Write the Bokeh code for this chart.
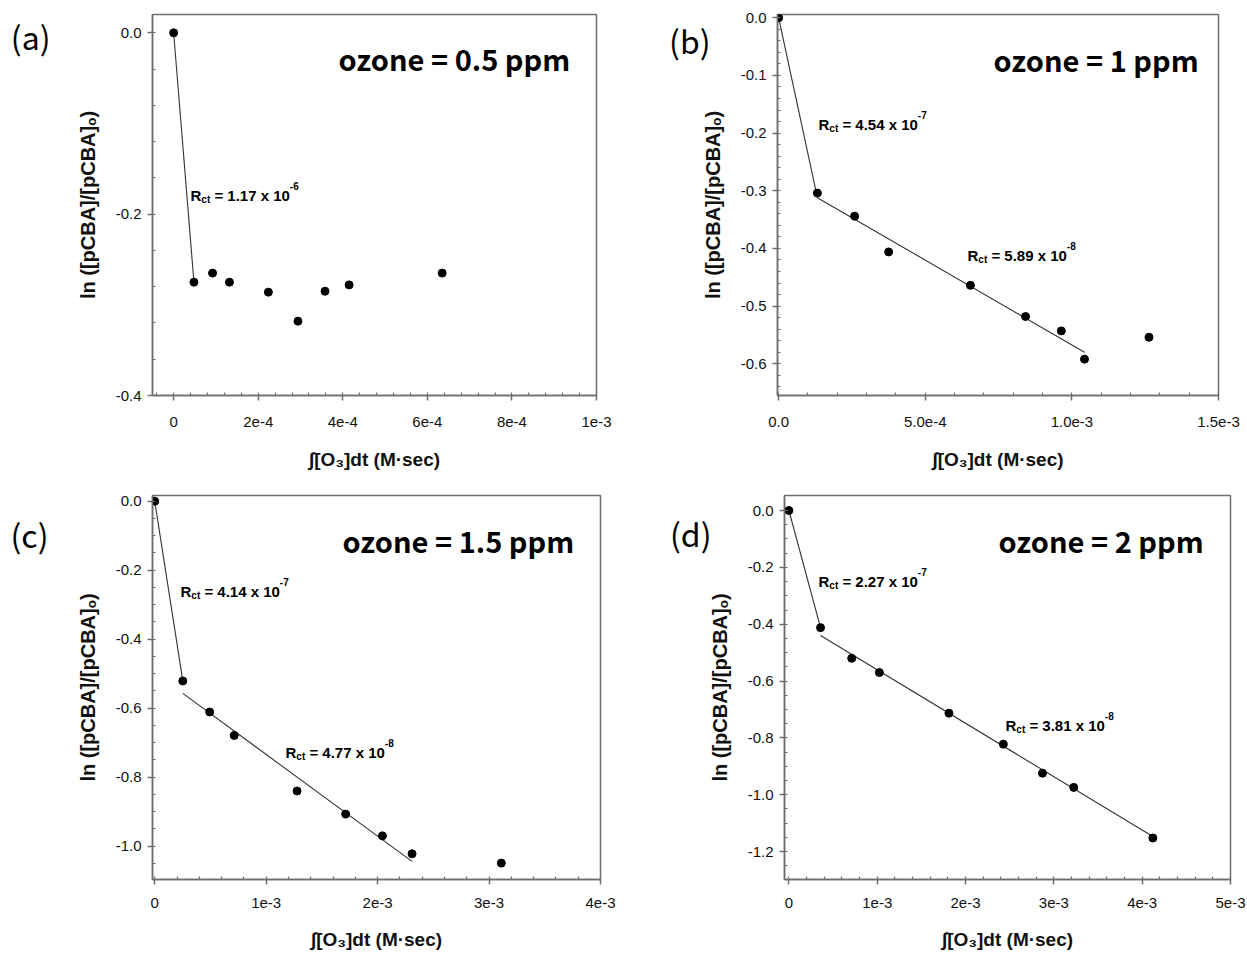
from bokeh.plotting import figure
from bokeh.models import Label, FixedTicker, Range1d, LinearAxis
from bokeh.layouts import column, row
from bokeh.embed import file_html
from bokeh.resources import INLINE

# ---------------- data ----------------
ozone_labels = ["ozone = 0.5 ppm", "ozone = 1 ppm", "ozone = 1.5 ppm", "ozone = 2 ppm"]
panel_letters = ["(a)", "(b)", "(c)", "(d)"]

a_x = [0.0, 4.8e-5, 9.2e-5, 1.32e-4, 2.24e-4, 2.94e-4, 3.58e-4, 4.15e-4, 6.35e-4]
a_y = [0.0, -0.275, -0.265, -0.275, -0.286, -0.318, -0.285, -0.278, -0.265]
a_fit1_x = [0.0, 4.8e-5]
a_fit1_y = [0.0, -0.275]

b_x = [0.0, 1.32e-4, 2.59e-4, 3.75e-4, 6.54e-4, 8.42e-4, 9.64e-4, 1.043e-3, 1.263e-3]
b_y = [0.0, -0.304, -0.344, -0.406, -0.464, -0.518, -0.543, -0.592, -0.554]
b_fit1_x = [0.0, 1.32e-4]
b_fit1_y = [0.0, -0.312]
b_fit2_x = [1.32e-4, 1.043e-3]
b_fit2_y = [-0.312, -0.580]

c_x = [0.0, 2.52e-4, 4.93e-4, 7.13e-4, 1.277e-3, 1.713e-3, 2.043e-3, 2.309e-3, 3.11e-3]
c_y = [0.0, -0.521, -0.611, -0.679, -0.840, -0.907, -0.970, -1.022, -1.049]
c_fit1_x = [0.0, 2.52e-4]
c_fit1_y = [0.0, -0.521]
c_fit2_x = [2.52e-4, 2.309e-3]
c_fit2_y = [-0.557, -1.044]

d_x = [0.0, 3.58e-4, 7.11e-4, 1.024e-3, 1.812e-3, 2.428e-3, 2.871e-3, 3.225e-3, 4.121e-3]
d_y = [0.0, -0.412, -0.520, -0.570, -0.713, -0.822, -0.924, -0.974, -1.152]
d_fit1_x = [0.0, 3.58e-4]
d_fit1_y = [0.0, -0.412]
d_fit2_x = [3.58e-4, 4.121e-3]
d_fit2_y = [-0.440, -1.147]

# R_ct annotations: (coefficient, exponent)
a_rct = [("1.17", "-6")]
b_rct = [("4.54", "-7"), ("5.89", "-8")]
c_rct = [("4.14", "-7"), ("4.77", "-8")]
d_rct = [("2.27", "-7"), ("3.81", "-8")]

# tick values and labels
a_xticks = [0.0, 2e-4, 4e-4, 6e-4, 8e-4, 1e-3]
a_xlabels = ["0", "2e-4", "4e-4", "6e-4", "8e-4", "1e-3"]
a_yticks = [0.0, -0.2, -0.4]
a_ylabels = ["0.0", "-0.2", "-0.4"]

b_xticks = [0.0, 5e-4, 1e-3, 1.5e-3]
b_xlabels = ["0.0", "5.0e-4", "1.0e-3", "1.5e-3"]
b_yticks = [0.0, -0.1, -0.2, -0.3, -0.4, -0.5, -0.6]
b_ylabels = ["0.0", "-0.1", "-0.2", "-0.3", "-0.4", "-0.5", "-0.6"]

c_xticks = [0.0, 1e-3, 2e-3, 3e-3, 4e-3]
c_xlabels = ["0", "1e-3", "2e-3", "3e-3", "4e-3"]
c_yticks = [0.0, -0.2, -0.4, -0.6, -0.8, -1.0]
c_ylabels = ["0.0", "-0.2", "-0.4", "-0.6", "-0.8", "-1.0"]

d_xticks = [0.0, 1e-3, 2e-3, 3e-3, 4e-3, 5e-3]
d_xlabels = ["0", "1e-3", "2e-3", "3e-3", "4e-3", "5e-3"]
d_yticks = [0.0, -0.2, -0.4, -0.6, -0.8, -1.0, -1.2]
d_ylabels = ["0.0", "-0.2", "-0.4", "-0.6", "-0.8", "-1.0", "-1.2"]

X_LABEL = "\u222b[O\u2083]dt (M\u00b7sec)"
Y_LABEL = "ln ([pCBA]/[pCBA]\u2092)"

# ---------------- styling helpers ----------------
AX = "#6e6e6e"
SANS = "Liberation Sans"
KR = "Noto Sans CJK KR"

# Arial Bold advance widths (per 1000 em)
ARIAL_BOLD_W = {"R": 722, "c": 556, "t": 333, " ": 278, "=": 584, ".": 278,
                "x": 556, "-": 333}
for _d in "0123456789":
    ARIAL_BOLD_W[_d] = 556


def text_w(s, size):
    return sum(ARIAL_BOLD_W.get(ch, 556) for ch in s) * size / 1000.0


def make_panel(width, height, frame, xr, yr, xticks, xlabels, xminor,
               yticks, ylabels, yminor, x_stand=(12, 18)):
    L, R, T, B = frame
    p = figure(width=width, height=height, output_backend="svg",
               toolbar_location=None,
               x_range=Range1d(*xr), y_range=Range1d(*yr),
               min_border_left=L, min_border_right=width - R,
               min_border_top=T, min_border_bottom=height - B)
    p.grid.visible = False
    p.outline_line_color = AX
    p.outline_line_width = 1.5
    p.outline_line_alpha = 1.0
    p.background_fill_color = "white"
    p.border_fill_color = "white"

    p.xaxis.ticker = FixedTicker(ticks=xticks, minor_ticks=xminor)
    p.yaxis.ticker = FixedTicker(ticks=yticks, minor_ticks=yminor)
    p.xaxis.major_label_overrides = dict(zip(xticks, xlabels))
    p.yaxis.major_label_overrides = dict(zip(yticks, ylabels))
    for ax in (p.xaxis, p.yaxis):
        ax.axis_line_color = AX
        ax.axis_line_width = 1.5
        ax.major_tick_line_color = AX
        ax.major_tick_line_width = 1.5
        ax.minor_tick_line_color = AX
        ax.minor_tick_line_width = 1.2
        ax.major_tick_out = 5
        ax.major_tick_in = 0
        ax.minor_tick_out = 0
        ax.minor_tick_in = 3
        ax.major_label_text_font = SANS
        ax.major_label_text_font_size = "15px"
        ax.major_label_text_color = "#111111"
        ax.axis_label_text_color = "#111111"
        ax.axis_label_text_font_style = "bold"
        ax.axis_label_text_font = SANS
    p.xaxis.axis_label = X_LABEL
    p.xaxis.axis_label_text_font_size = "19px"
    p.xaxis.major_label_standoff = x_stand[0]
    p.xaxis.axis_label_standoff = x_stand[1]
    p.yaxis.axis_label = Y_LABEL
    p.yaxis.axis_label_text_font_size = "20px"
    p.yaxis.major_label_standoff = 6
    p.yaxis.axis_label_standoff = 14
    p._frame = frame
    p._xr = xr
    p._yr = yr
    return p


def to_data(p, px, py):
    L, R, T, B = p._frame
    x0, x1 = p._xr
    y0, y1 = p._yr
    x = x0 + (px - L) / (R - L) * (x1 - x0)
    y = y1 - (py - T) / (B - T) * (y1 - y0)
    return x, y


def add_text(p, px, py, text, font, size, style, color="black"):
    x, y = to_data(p, px, py)
    p.add_layout(Label(x=x, y=y, text=text, text_font=font,
                       text_font_size=f"{size}px", text_font_style=style,
                       text_color=color, text_align="left",
                       text_baseline="alphabetic"))


def add_letter(p, py_center, text, standoff):
    # panel letter drawn as the single tick label of an extra, line-less left axis
    _, yc = to_data(p, 0, py_center)
    ax = LinearAxis(ticker=FixedTicker(ticks=[yc], minor_ticks=[]),
                    major_label_overrides={yc: text},
                    axis_line_color=None, major_tick_line_color=None,
                    minor_tick_line_color=None, major_tick_out=0,
                    major_tick_in=0,
                    major_label_text_font=KR,
                    major_label_text_font_size="32px",
                    major_label_text_color="black",
                    major_label_standoff=standoff)
    p.add_layout(ax, "left")


def add_rct(p, px, py, coef, exp):
    x, y = to_data(p, px, py)
    main, small = 15, 10
    segs = [("R", main, 0, 0.0),
            ("ct", small, -4, 0.0),
            (f"= {coef} x 10", main, 0, text_w(" ", main)),
            (exp, small, 10, 0.0)]
    off = 0.0
    for txt, size, dy, pre in segs:
        off += pre
        p.add_layout(Label(x=x, y=y, x_offset=off, y_offset=dy, text=txt,
                           text_font=SANS, text_font_size=f"{size}px",
                           text_font_style="bold", text_color="black",
                           text_align="left", text_baseline="alphabetic"))
        off += text_w(txt, size)


def draw(p, xs, ys, fits):
    for fx, fy in fits:
        p.line(fx, fy, line_color="#333333", line_width=1.1)
    p.scatter(xs, ys, size=8, color="black")


def minor(start, stop, step):
    out = []
    n = int(round((stop - start) / step))
    for i in range(n + 1):
        out.append(start + i * step)
    return out


H1, H2 = 473, 480
T1, B1 = 14, 395            # row 1 frame top/bottom (shared)
T2, B2 = 495 - H1, 879 - H1  # row 2 frame top/bottom (shared)
ROW1_STAND = (16, 19)
ROW2_STAND = (13, 18)

# ---------------- panels ----------------
pa = make_panel(620, H1, (152, 596, T1, B1), (-5e-5, 1e-3), (-0.4, 0.0202),
                a_xticks, a_xlabels, minor(-4e-5, 1e-3, 4e-5),
                a_yticks, a_ylabels, minor(-0.4, 0.0, 0.04), ROW1_STAND)
draw(pa, a_x, a_y, [(a_fit1_x, a_fit1_y)])
add_letter(pa, 35, panel_letters[0], 23)
add_text(pa, 338, 57, ozone_labels[0], KR, 29, "bold")
add_rct(pa, 190, 195, *a_rct[0])

pb = make_panel(627, H1, (157, 598, T1, B1), (-4e-6, 1.5e-3), (-0.655, 0.0057),
                b_xticks, b_xlabels, minor(0.0, 1.5e-3, 1e-4),
                b_yticks, b_ylabels, minor(-0.64, 0.0, 0.02), ROW1_STAND)
draw(pb, b_x, b_y, [(b_fit1_x, b_fit1_y), (b_fit2_x, b_fit2_y)])
add_letter(pb, 39, panel_letters[1], -12)
add_text(pb, 373, 58, ozone_labels[1], KR, 29, "bold")
add_rct(pb, 198, 124, *b_rct[0])
add_rct(pb, 347, 255, *b_rct[1])

pc = make_panel(620, H2, (152, 600, T2, B2), (-2e-5, 4e-3), (-1.0965, 0.0165),
                c_xticks, c_xlabels, minor(0.0, 4e-3, 2e-4),
                c_yticks, c_ylabels, minor(-1.05, 0.0, 0.05), ROW2_STAND)
draw(pc, c_x, c_y, [(c_fit1_x, c_fit1_y), (c_fit2_x, c_fit2_y)])
add_letter(pc, 533 - H1, panel_letters[2], 25)
add_text(pc, 342, 539 - H1, ozone_labels[2], KR, 29, "bold")
add_rct(pc, 180, 591 - H1, *c_rct[0])
add_rct(pc, 285, 752 - H1, *c_rct[1])

pd = make_panel(627, H2, (164, 610, T2, B2), (-5e-5, 5e-3), (-1.298, 0.0528),
                d_xticks, d_xlabels, minor(0.0, 5e-3, 2e-4),
                d_yticks, d_ylabels, minor(-1.25, 0.0, 0.05), ROW2_STAND)
draw(pd, d_x, d_y, [(d_fit1_x, d_fit1_y), (d_fit2_x, d_fit2_y)])
add_letter(pd, 532 - H1, panel_letters[3], -6)
add_text(pd, 378, 539 - H1, ozone_labels[3], KR, 29, "bold")
add_rct(pd, 198, 581 - H1, *d_rct[0])
add_rct(pd, 385, 725 - H1, *d_rct[1])

layout = column(row(pa, pb, spacing=0), row(pc, pd, spacing=0), spacing=0)

open("out.html", "w").write(file_html(layout, INLINE))
